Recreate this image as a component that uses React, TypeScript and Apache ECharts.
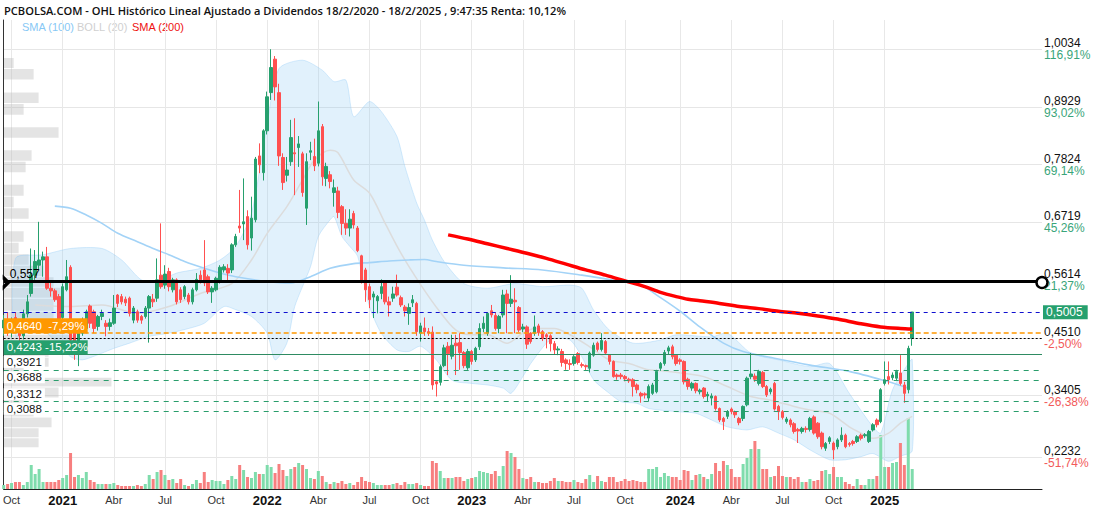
import React, { useEffect, useRef } from "react";
import * as echarts from "echarts";

// ---------- DATA ----------
const titleText =
  "PCBOLSA.COM - OHL Histórico Lineal Ajustado a Dividendos 18/2/2020 - 18/2/2025 , 9:47:35 Renta: 10,12%";
const firstWeek = "2020-09-14"; // Monday of first weekly category
const categoryCount = 265;

const xTickLabels: [string, string][] = [
  ["2020-10-01", "Oct"], ["2021-01-01", "2021"], ["2021-04-01", "Abr"], ["2021-07-01", "Jul"],
  ["2021-10-01", "Oct"], ["2022-01-01", "2022"], ["2022-04-01", "Abr"], ["2022-07-01", "Jul"],
  ["2022-10-01", "Oct"], ["2023-01-01", "2023"], ["2023-04-01", "Abr"], ["2023-07-01", "Jul"],
  ["2023-10-01", "Oct"], ["2024-01-01", "2024"], ["2024-04-01", "Abr"], ["2024-07-01", "Jul"],
  ["2024-10-01", "Oct"], ["2025-01-01", "2025"],
];

const yTicks = [0.2232, 0.3405, 0.451, 0.5614, 0.6719, 0.7824, 0.8929, 1.0034];
const yTickPct = ["-51,74%", "-26,38%", "-2,50%", "21,37%", "45,26%", "69,14%", "93,02%", "116,91%"];

// weekly candles [open, close, low, high]
const ohlc: number[][] = [
  [0.470,0.485,0.455,0.495],[0.485,0.462,0.455,0.500],[0.462,0.478,0.452,0.490],[0.490,0.470,0.465,0.500],
  [0.470,0.455,0.445,0.478],[0.455,0.497,0.448,0.505],[0.497,0.520,0.490,0.533],[0.536,0.571,0.530,0.622],
  [0.571,0.597,0.562,0.619],[0.590,0.600,0.581,0.673],[0.600,0.606,0.568,0.616],[0.606,0.546,0.543,0.625],
  [0.546,0.541,0.530,0.560],[0.541,0.524,0.520,0.545],[0.530,0.487,0.480,0.535],[0.490,0.549,0.480,0.555],
  [0.543,0.568,0.540,0.600],[0.586,0.447,0.440,0.590],[0.460,0.435,0.409,0.470],[0.434,0.460,0.397,0.465],
  [0.460,0.479,0.455,0.490],[0.469,0.501,0.460,0.505],[0.512,0.479,0.470,0.515],[0.501,0.469,0.460,0.505],
  [0.473,0.492,0.465,0.495],[0.492,0.498,0.485,0.505],[0.479,0.473,0.454,0.485],[0.473,0.480,0.465,0.488],
  [0.479,0.508,0.476,0.533],[0.533,0.517,0.510,0.535],[0.530,0.520,0.515,0.535],[0.525,0.518,0.512,0.530],
  [0.527,0.498,0.492,0.530],[0.485,0.508,0.479,0.512],[0.501,0.485,0.480,0.505],[0.492,0.485,0.478,0.495],
  [0.492,0.508,0.488,0.512],[0.508,0.530,0.442,0.533],[0.525,0.520,0.510,0.535],[0.527,0.562,0.520,0.603],
  [0.571,0.549,0.545,0.670],[0.552,0.573,0.545,0.590],[0.578,0.549,0.540,0.585],[0.543,0.562,0.538,0.566],
  [0.562,0.520,0.515,0.565],[0.543,0.524,0.518,0.548],[0.530,0.549,0.525,0.552],[0.533,0.520,0.515,0.537],
  [0.520,0.543,0.515,0.547],[0.543,0.563,0.540,0.575],[0.571,0.562,0.555,0.580],[0.581,0.556,0.550,0.638],
  [0.568,0.539,0.535,0.572],[0.539,0.546,0.518,0.550],[0.543,0.565,0.540,0.568],[0.559,0.586,0.555,0.590],
  [0.581,0.587,0.576,0.592],[0.584,0.575,0.561,0.592],[0.581,0.629,0.575,0.632],[0.629,0.645,0.625,0.650],
  [0.665,0.661,0.652,0.734],[0.669,0.673,0.638,0.756],[0.683,0.629,0.620,0.695],[0.642,0.680,0.618,0.721],
  [0.677,0.793,0.672,0.797],[0.799,0.782,0.766,0.823],[0.767,0.847,0.752,0.850],[0.847,0.912,0.840,0.922],
  [0.920,0.968,0.906,1.003],[0.984,0.931,0.905,0.990],[0.920,0.799,0.780,0.937],[0.796,0.748,0.734,0.804],
  [0.762,0.772,0.750,0.797],[0.788,0.834,0.780,0.868],[0.805,0.803,0.724,0.871],[0.815,0.822,0.778,0.837],
  [0.803,0.729,0.721,0.807],[0.699,0.788,0.667,0.804],[0.806,0.809,0.791,0.826],[0.798,0.780,0.770,0.832],
  [0.785,0.847,0.779,0.903],[0.855,0.759,0.742,0.860],[0.756,0.779,0.741,0.786],[0.763,0.750,0.737,0.770],
  [0.729,0.738,0.702,0.754],[0.732,0.691,0.680,0.740],[0.702,0.670,0.648,0.705],[0.670,0.661,0.648,0.697],
  [0.661,0.678,0.645,0.697],[0.689,0.667,0.660,0.694],[0.661,0.618,0.615,0.665],[0.608,0.559,0.555,0.610],
  [0.581,0.543,0.520,0.585],[0.549,0.524,0.508,0.555],[0.529,0.535,0.489,0.540],[0.522,0.530,0.498,0.533],
  [0.536,0.549,0.525,0.563],[0.557,0.520,0.515,0.560],[0.520,0.514,0.492,0.530],[0.527,0.535,0.520,0.549],
  [0.548,0.533,0.530,0.572],[0.528,0.514,0.510,0.532],[0.510,0.503,0.492,0.514],[0.498,0.509,0.476,0.517],
  [0.518,0.524,0.510,0.533],[0.517,0.463,0.455,0.520],[0.460,0.474,0.444,0.480],[0.470,0.463,0.455,0.490],
  [0.463,0.460,0.455,0.470],[0.462,0.361,0.352,0.473],[0.367,0.363,0.339,0.370],[0.366,0.396,0.360,0.400],
  [0.398,0.432,0.395,0.438],[0.435,0.421,0.380,0.443],[0.416,0.437,0.410,0.457],[0.441,0.436,0.380,0.457],
  [0.442,0.423,0.390,0.460],[0.423,0.398,0.393,0.426],[0.394,0.425,0.390,0.430],[0.425,0.406,0.400,0.428],
  [0.409,0.431,0.405,0.434],[0.434,0.469,0.428,0.479],[0.469,0.479,0.462,0.492],[0.460,0.498,0.455,0.500],
  [0.503,0.495,0.490,0.514],[0.494,0.469,0.465,0.500],[0.469,0.492,0.460,0.495],[0.495,0.533,0.490,0.543],
  [0.535,0.517,0.460,0.543],[0.517,0.525,0.510,0.571],[0.523,0.520,0.460,0.546],[0.509,0.466,0.462,0.512],
  [0.468,0.472,0.462,0.478],[0.472,0.439,0.430,0.475],[0.460,0.444,0.440,0.462],[0.460,0.472,0.455,0.494],
  [0.474,0.461,0.455,0.478],[0.463,0.450,0.445,0.466],[0.457,0.453,0.431,0.460],[0.455,0.440,0.425,0.458],
  [0.440,0.428,0.420,0.445],[0.428,0.430,0.418,0.435],[0.425,0.404,0.396,0.430],[0.409,0.402,0.390,0.412],
  [0.402,0.400,0.390,0.410],[0.402,0.415,0.398,0.418],[0.421,0.404,0.400,0.424],[0.400,0.398,0.394,0.404],
  [0.398,0.396,0.388,0.400],[0.393,0.422,0.385,0.425],[0.418,0.437,0.415,0.442],[0.441,0.429,0.425,0.444],
  [0.429,0.446,0.425,0.460],[0.444,0.422,0.420,0.447],[0.418,0.406,0.400,0.420],[0.406,0.377,0.375,0.408],
  [0.380,0.377,0.371,0.383],[0.380,0.377,0.372,0.384],[0.377,0.373,0.368,0.380],[0.372,0.369,0.365,0.375],
  [0.371,0.358,0.339,0.374],[0.361,0.352,0.345,0.364],[0.345,0.340,0.327,0.348],[0.344,0.342,0.335,0.347],
  [0.336,0.358,0.330,0.362],[0.345,0.361,0.342,0.365],[0.348,0.387,0.345,0.390],[0.393,0.402,0.388,0.405],
  [0.402,0.423,0.398,0.428],[0.426,0.432,0.420,0.436],[0.434,0.415,0.410,0.438],[0.418,0.402,0.398,0.420],
  [0.409,0.406,0.400,0.412],[0.406,0.367,0.362,0.408],[0.372,0.358,0.352,0.375],[0.355,0.364,0.350,0.367],
  [0.364,0.350,0.345,0.366],[0.348,0.351,0.343,0.354],[0.355,0.339,0.335,0.357],[0.340,0.343,0.330,0.348],
  [0.336,0.340,0.322,0.345],[0.339,0.316,0.312,0.341],[0.316,0.294,0.290,0.318],[0.297,0.291,0.275,0.300],
  [0.301,0.310,0.296,0.313],[0.315,0.310,0.305,0.318],[0.310,0.304,0.298,0.312],[0.297,0.289,0.284,0.300],
  [0.297,0.320,0.292,0.322],[0.323,0.374,0.320,0.377],[0.377,0.382,0.372,0.422],[0.378,0.372,0.367,0.383],
  [0.364,0.387,0.360,0.390],[0.385,0.358,0.355,0.388],[0.358,0.342,0.338,0.361],[0.348,0.353,0.343,0.356],
  [0.364,0.315,0.312,0.367],[0.320,0.310,0.294,0.323],[0.310,0.299,0.295,0.313],[0.291,0.296,0.287,0.300],
  [0.294,0.285,0.280,0.297],[0.287,0.272,0.268,0.290],[0.276,0.273,0.250,0.279],[0.272,0.278,0.268,0.281],
  [0.278,0.276,0.270,0.282],[0.276,0.297,0.272,0.300],[0.300,0.269,0.266,0.303],[0.288,0.262,0.258,0.290],
  [0.269,0.243,0.238,0.272],[0.240,0.249,0.235,0.252],[0.253,0.260,0.248,0.263],[0.250,0.237,0.219,0.253],
  [0.243,0.256,0.238,0.259],[0.256,0.265,0.252,0.280],[0.265,0.243,0.240,0.268],[0.249,0.247,0.243,0.252],
  [0.253,0.249,0.245,0.256],[0.253,0.262,0.250,0.265],[0.265,0.259,0.255,0.268],[0.264,0.266,0.260,0.269],
  [0.253,0.272,0.250,0.275],[0.275,0.285,0.272,0.288],[0.294,0.285,0.280,0.297],[0.291,0.352,0.288,0.355],
  [0.364,0.371,0.360,0.406],[0.377,0.371,0.362,0.406],[0.375,0.380,0.370,0.385],[0.374,0.387,0.370,0.390],
  [0.384,0.364,0.360,0.418],[0.361,0.345,0.327,0.367],[0.352,0.431,0.345,0.436],[0.450,0.5005,0.436,0.5005],
];

// weekly volume (relative units)
const volume: number[] = [
  4,5,6,7,7,4,7,24,15,20,7,7,7,7,9,11,14,36,12,14,11,17,9,7,5,5,5,5,6,4,3,3,3,3,4,3,5,14,10,17,
  19,14,9,10,6,10,4,3,5,9,6,17,7,9,8,8,5,9,13,10,24,19,12,11,17,15,15,24,22,16,25,19,13,20,22,26,24,20,11,10,
  18,13,7,5,7,6,8,5,6,4,7,12,8,7,6,4,4,4,4,5,6,4,7,5,5,6,4,3,3,28,26,18,11,11,11,12,12,8,10,11,
  12,18,17,16,15,18,13,23,38,36,32,20,11,10,12,7,7,6,6,8,11,8,8,7,7,9,7,6,10,14,7,13,8,7,12,12,7,8,10,8,
  9,8,7,7,20,20,22,12,16,13,12,12,9,19,18,9,14,15,12,10,15,26,18,28,24,20,12,12,25,31,40,48,40,20,20,12,13,23,13,12,
  12,10,12,7,7,10,8,9,18,19,15,22,12,12,7,5,3,10,4,4,10,10,13,54,22,22,26,27,46,24,71,20,
];

// indicator lines: [week index, price]
const sma100: number[][] = [
  [13,0.703],[17,0.699],[21,0.686],[25,0.670],[29,0.651],[34,0.635],[38,0.622],[42,0.610],[46,0.597],[51,0.584],
  [55,0.575],[59,0.568],[67,0.559],[73,0.556],[78,0.568],[83,0.584],[89,0.593],[93,0.595],[98,0.598],[103,0.600],
  [107,0.601],[110,0.597],[117,0.590],[127,0.585],[137,0.581],[147,0.571],[157,0.559],[162,0.552],[167,0.528],
  [172,0.502],[177,0.472],[183,0.441],[188,0.425],[196,0.412],[205,0.399],[215,0.387],[225,0.367],[230,0.355],
];
const sma200: number[][] = [
  [113,0.648],[118,0.640],[123,0.631],[128,0.622],[133,0.613],[138,0.603],[143,0.592],[148,0.581],[153,0.571],
  [158,0.560],[163,0.549],[167,0.538],[171,0.530],[174,0.525],[177,0.522],[182,0.517],[187,0.511],[192,0.507],
  [197,0.502],[202,0.498],[207,0.493],[212,0.487],[218,0.478],[223,0.472],[228,0.469],[231,0.468],
];
const bollUpper: number[][] = [
  [3,0.603],[10,0.610],[17,0.622],[25,0.622],[30,0.600],[35,0.562],[39,0.559],[44,0.575],[50,0.584],[55,0.600],
  [59,0.626],[63,0.689],[67,0.861],[70,0.966],[76,0.982],[81,0.963],[84,0.941],[87,0.944],[89,0.874],[93,0.903],
  [96,0.884],[100,0.836],[102,0.779],[105,0.709],[107,0.676],[109,0.638],[112,0.597],[117,0.555],[123,0.546],
  [130,0.555],[137,0.549],[144,0.552],[147,0.546],[150,0.504],[154,0.466],[160,0.441],[167,0.447],[171,0.457],
  [180,0.453],[184,0.460],[190,0.422],[197,0.409],[205,0.396],[210,0.402],[215,0.345],[221,0.281],[223,0.269],
  [226,0.352],[230,0.402],[231,0.410],
];
const bollLower: number[][] = [
  [3,0.454],[8,0.473],[13,0.447],[17,0.415],[20,0.409],[24,0.419],[28,0.431],[32,0.441],[37,0.454],[42,0.460],
  [47,0.469],[51,0.479],[56,0.511],[59,0.505],[63,0.492],[67,0.460],[69,0.409],[72,0.441],[74,0.511],[78,0.587],
  [80,0.645],[83,0.677],[84,0.683],[86,0.645],[88,0.626],[90,0.607],[93,0.511],[96,0.460],[100,0.428],[103,0.425],
  [106,0.435],[110,0.409],[114,0.370],[119,0.364],[123,0.361],[127,0.355],[129,0.345],[132,0.377],[134,0.402],
  [138,0.441],[140,0.450],[144,0.447],[147,0.415],[150,0.371],[154,0.345],[157,0.329],[161,0.326],[164,0.316],
  [171,0.310],[176,0.307],[180,0.294],[184,0.281],[189,0.275],[193,0.281],[197,0.269],[201,0.256],[205,0.237],
  [210,0.218],[214,0.218],[218,0.224],[221,0.230],[225,0.215],[228,0.225],[231,0.235],
];
const bollMid: number[][] = [
  [8,0.514],[17,0.511],[25,0.514],[34,0.498],[42,0.511],[50,0.536],[58,0.555],[63,0.600],[67,0.651],[72,0.702],
  [76,0.753],[79,0.791],[83,0.810],[85,0.805],[89,0.753],[93,0.728],[97,0.670],[101,0.613],[106,0.553],[111,0.500],
  [115,0.466],[119,0.457],[123,0.457],[128,0.441],[132,0.460],[135,0.469],[140,0.469],[144,0.457],[149,0.434],
  [154,0.409],[159,0.402],[164,0.390],[169,0.387],[178,0.377],[184,0.358],[190,0.339],[195,0.332],[201,0.320],
  [205,0.313],[210,0.307],[215,0.281],[218,0.269],[221,0.259],[225,0.269],[228,0.288],[231,0.301],
];

// volume-by-price profile: [low price, high price, volume units]
const profile: number[][] = [
  [0.966,0.987,10],[0.944,0.966,30],[0.899,0.921,35],[0.877,0.899,20],[0.833,0.855,55],[0.789,0.811,28],
  [0.767,0.789,22],[0.722,0.745,20],[0.700,0.722,10],[0.678,0.700,25],[0.634,0.656,20],[0.612,0.634,15],
  [0.590,0.612,25],[0.568,0.590,40],[0.548,0.568,50],[0.527,0.548,57],[0.502,0.527,50],[0.480,0.502,50],
  [0.458,0.480,60],[0.436,0.458,70],[0.414,0.436,45],[0.395,0.414,45],[0.376,0.395,20],[0.357,0.376,108],
  [0.336,0.357,55],[0.318,0.336,20],[0.300,0.318,30],[0.279,0.300,48],[0.260,0.279,35],[0.241,0.260,35],
];

// price levels
const lastPrice = 0.5005;
const resistance = 0.557;
const levelOrange = 0.464;
const levelOrangeLabel = "0,4640  -7,29%";
const levelGreen = 0.4243;
const levelGreenLabel = "0,4243 -15,22%";
const prevClose = 0.4513;
const supports = [0.3921, 0.3688, 0.3312, 0.3088];
const supportLabelGap = [2, -3, 1, -3]; // label distance above each line (layout)

// ---------- CHART ----------
const UP = "#26a06e";
const DOWN = "#ff5050";
const VUP = "#7fdcac";
const VDOWN = "#f77f7f";
const FONT = "Liberation Sans, Arial, sans-serif";

function fmt(v: number, d = 4) {
  return v.toFixed(d).replace(".", ",");
}

export default function App() {
  const ref = useRef<HTMLDivElement>(null);
  useEffect(() => {
    if (!ref.current) return;
    const chart = echarts.init(ref.current, undefined, { renderer: "svg" });
    const start = new Date(firstWeek + "T00:00:00Z").getTime();
    const DAY = 86400000;
    const categories: string[] = [];
    for (let i = 0; i < categoryCount; i++) {
      categories.push(new Date(start + i * 7 * DAY).toISOString().slice(0, 10));
    }
    const tickMap = new Map<number, string>();
    xTickLabels.forEach(([d, t]) => {
      const idx = Math.floor((new Date(d + "T00:00:00Z").getTime() - start) / (7 * DAY));
      tickMap.set(idx, t);
    });

    const supportLines = supports.map((v, k) => ({
      yAxis: v,
      lineStyle: { color: "#2a9d6c", type: [5, 5], width: 1.2 },
      label: {
        show: true, position: "insideStartTop", distance: [0, supportLabelGap[k]], formatter: fmt(v),
        color: "#111", fontSize: 11.5, lineHeight: 12, height: 12, fontFamily: FONT, backgroundColor: "#fff",
        padding: [0, 3, 0, 3],
      },
    }));

    const option: any = {
      animation: false,
      backgroundColor: "#fff",
      grid: { left: 1, right: 54, top: 20, bottom: 23, containLabel: false },
      xAxis: [
        {
          type: "category",
          data: categories,
          boundaryGap: false,
          axisLine: { show: true, lineStyle: { color: "#222" } },
          axisTick: { show: false },
          axisLabel: {
            interval: (i: number) => tickMap.has(i),
            formatter: (_v: string, i: number) => {
              const t = tickMap.get(i) || "";
              return /^\d{4}$/.test(t) ? `{y|${t}}` : `{m|${t}}`;
            },
            margin: 5,
            rich: {
              y: { fontWeight: "bold", fontSize: 13, color: "#111", fontFamily: FONT },
              m: { fontSize: 11, color: "#333", fontFamily: FONT },
            },
          },
          splitLine: { show: true, interval: (i: number) => tickMap.has(i), lineStyle: { color: "#e8e8e8" } },
        },
        { type: "value", min: 0, max: 1041, show: false, position: "top" },
      ],
      yAxis: [
        {
          type: "value",
          position: "right",
          min: 0.1621,
          max: 1.0589,
          axisLine: { show: true, lineStyle: { color: "#333" } },
          axisTick: { show: false, customValues: yTicks },
          axisLabel: {
            customValues: yTicks,
            margin: 2,
            formatter: (v: number) => {
              const k = yTicks.findIndex((t) => Math.abs(t - v) < 1e-6);
              const p = yTickPct[k] || "";
              return `{a|${fmt(v)}}\n{${p.startsWith("-") ? "n" : "p"}|${p}}`;
            },
            rich: {
              a: { color: "#111", fontSize: 12, fontFamily: FONT, lineHeight: 12 },
              p: { color: "#3aa57a", fontSize: 12, fontFamily: FONT, lineHeight: 12 },
              n: { color: "#f25a5a", fontSize: 12, fontFamily: FONT, lineHeight: 12 },
            },
          },
          splitLine: { show: true, lineStyle: { color: "#e6e6e6" } },
        },
        { type: "value", min: 0, max: 469, show: false, splitLine: { show: false } },
      ],
      graphic: [
        { type: "text", left: 4, top: 5, style: { text: titleText, font: '600 11.1px "Open Sans"', fill: "#111" } },
        { type: "text", left: 22, top: 21, style: { text: "SMA (100)", font: `11px ${FONT}`, fill: "#87c8f5" } },
        { type: "text", left: 77, top: 21, style: { text: "BOLL (20)", font: `11px ${FONT}`, fill: "#d0d0d0" } },
        { type: "text", left: 132, top: 21, style: { text: "SMA (200)", font: `11px ${FONT}`, fill: "#ee1111" } },
      ],
      series: [
        {
          name: "profile",
          type: "custom",
          xAxisIndex: 1,
          yAxisIndex: 0,
          z: 0,
          silent: true,
          data: profile,
          renderItem: (_p: any, api: any) => {
            const a = api.coord([0, api.value(1)]);
            const b = api.coord([api.value(2), api.value(0)]);
            return {
              type: "rect",
              shape: { x: a[0], y: a[1] + 0.5, width: b[0] - a[0], height: b[1] - a[1] - 1 },
              style: { fill: "rgba(185,185,185,0.38)" },
            };
          },
        },
        {
          name: "BOLL band",
          type: "custom",
          z: 1,
          silent: true,
          data: [[0, 0.5]],
          renderItem: (_p: any, api: any) => {
            const pts = [
              ...bollUpper.map((p) => api.coord(p)),
              ...bollLower.slice().reverse().map((p) => api.coord(p)),
            ];
            return {
              type: "polygon",
              shape: { points: pts, smooth: 0.25 },
              style: { fill: "rgba(140,200,245,0.26)", stroke: "rgba(140,200,245,0.35)", lineWidth: 1 },
            };
          },
        },
        {
          name: "BOLL (20)", type: "line", data: bollMid, showSymbol: false, smooth: 0.3, z: 2, silent: true,
          lineStyle: { color: "#dcdcdc", width: 1.5 },
        },
        {
          name: "SMA (100)", type: "line", data: sma100, showSymbol: false, smooth: 0.3, z: 2, silent: true,
          lineStyle: { color: "#a3d3f7", width: 1.6 },
        },
        {
          name: "Volumen",
          type: "bar",
          xAxisIndex: 0,
          yAxisIndex: 1,
          barWidth: 3,
          z: 2,
          silent: true,
          data: volume.map((v, i) => ({
            value: v,
            itemStyle: { color: ohlc[i] && ohlc[i][1] >= ohlc[i][0] ? VUP : VDOWN },
          })),
        },
        {
          name: "OHL",
          type: "candlestick",
          data: ohlc,
          barWidth: 3,
          z: 3,
          silent: true,
          itemStyle: { color: UP, color0: DOWN, borderColor: UP, borderColor0: DOWN, borderWidth: 1 },
        },
        {
          name: "SMA (200)", type: "line", data: sma200, showSymbol: false, smooth: 0.3, z: 4, silent: true,
          lineStyle: { color: "#ff0000", width: 3.5 },
        },
        {
          name: "levels",
          type: "line",
          data: [],
          z: 6,
          silent: true,
          markLine: {
            silent: true,
            symbol: ["none", "none"],
            animation: false,
            data: [
              {
                yAxis: resistance,
                lineStyle: { color: "#000", width: 3, type: "solid" },
                label: {
                  show: true, position: "insideStartTop", distance: [0, 1], formatter: fmt(resistance, 3),
                  color: "#000", fontSize: 12, fontFamily: FONT, padding: [0, 0, 0, 6],
                },
              },
              {
                yAxis: lastPrice,
                lineStyle: { color: "#1010d0", width: 1, type: [4, 4] },
                label: {
                  show: true, position: "end", distance: 1, formatter: fmt(lastPrice),
                  color: "#fff", fontSize: 12, fontFamily: FONT, backgroundColor: "#26a06e", padding: [1, 5, 1, 3],
                },
              },
              {
                yAxis: levelOrange,
                lineStyle: { color: "#ff9800", width: 1.5, type: [5, 3] },
                label: {
                  show: true, position: "insideStartTop", distance: [0, 0], formatter: levelOrangeLabel,
                  color: "#fff", fontSize: 11.5, fontFamily: FONT, backgroundColor: "#ff9800",
                  padding: [2, 3, 1, 3], width: 78,
                },
              },
              { yAxis: prevClose, lineStyle: { color: "#000", width: 1, type: [2, 2] }, label: { show: false } },
              {
                yAxis: levelGreen,
                lineStyle: { color: "#2e8b62", width: 1, type: "solid" },
                label: {
                  show: true, position: "insideStartTop", distance: [0, 0], formatter: levelGreenLabel,
                  color: "#fff", fontSize: 11.5, fontFamily: FONT, backgroundColor: "#26a06e",
                  padding: [1, 3, 1, 3], width: 78,
                },
              },
              ...supportLines,
            ],
          },
          markPoint: {
            silent: true,
            animation: false,
            label: { show: false },
            data: [
              {
                coord: [0, resistance],
                symbol: "path://M0,0L8,8L0,16L0,11L3,8L0,5Z",
                symbolSize: [8, 16],
                symbolOffset: [3, 0],
                itemStyle: { color: "#000" },
              },
              {
                coord: [categoryCount - 1, resistance],
                symbol: "circle",
                symbolSize: 11,
                itemStyle: { color: "#fff", borderColor: "#000", borderWidth: 2.5 },
              },
            ],
          },
        },
      ],
    };
    chart.setOption(option);
    return () => chart.dispose();
  }, []);
  return <div ref={ref} style={{ position: "fixed", left: 0, top: 0, width: 1096, height: 512 }} />;
}
